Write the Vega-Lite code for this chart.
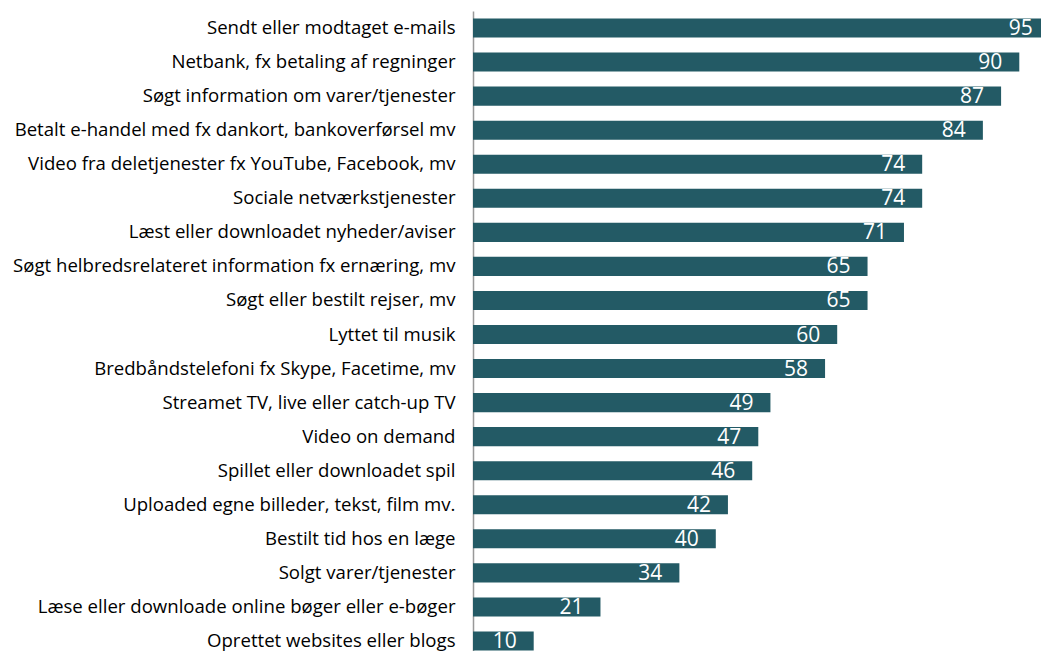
{
  "$schema": "https://vega.github.io/schema/vega-lite/v6.json",
  "autosize": {"type": "none"},
  "padding": {"left": 473, "top": 11, "right": 0, "bottom": 0},
  "width": 607,
  "height": 647,
  "background": "white",
  "data": {"values": [
    {"k": "Sendt eller modtaget e-mails", "v": 95},
    {"k": "Netbank, fx betaling af regninger", "v": 90},
    {"k": "Søgt information om varer/tjenester", "v": 87},
    {"k": "Betalt e-handel med fx dankort, bankoverførsel mv", "v": 84},
    {"k": "Video fra deletjenester fx YouTube, Facebook, mv", "v": 74},
    {"k": "Sociale netværkstjenester", "v": 74},
    {"k": "Læst eller downloadet nyheder/aviser", "v": 71},
    {"k": "Søgt helbredsrelateret information fx ernæring, mv", "v": 65},
    {"k": "Søgt eller bestilt rejser, mv", "v": 65},
    {"k": "Lyttet til musik", "v": 60},
    {"k": "Bredbåndstelefoni fx Skype, Facetime, mv", "v": 58},
    {"k": "Streamet TV, live eller catch-up TV", "v": 49},
    {"k": "Video on demand", "v": 47},
    {"k": "Spillet eller downloadet spil", "v": 46},
    {"k": "Uploaded egne billeder, tekst, film mv.", "v": 42},
    {"k": "Bestilt tid hos en læge", "v": 40},
    {"k": "Solgt varer/tjenester", "v": 34},
    {"k": "Læse eller downloade online bøger eller e-bøger", "v": 21},
    {"k": "Oprettet websites eller blogs", "v": 10}
  ]},
  "encoding": {
    "y": {"field": "k", "type": "nominal", "sort": null,
      "scale": {"paddingInner": 0.44, "paddingOuter": 0.22},
      "axis": {"title": null, "ticks": false, "labelPadding": 18, "labelFont": "Open Sans", "labelFontSize": 18.6, "labelColor": "#000000", "labelLimit": 0, "domainColor": "#999999", "domainWidth": 1.5}},
    "x": {"field": "v", "type": "quantitative", "scale": {"domain": [0, 100], "nice": false},
      "axis": null}
  },
  "layer": [
    {"mark": {"type": "bar", "color": "#235a65"}},
    {"mark": {"type": "text", "align": "right", "baseline": "middle", "dx": -17, "dy": 1, "font": "Open Sans", "fontSize": 21, "color": "#ffffff"},
     "encoding": {"text": {"field": "v", "type": "quantitative"}}}
  ],
  "config": {"view": {"stroke": null}}
}
